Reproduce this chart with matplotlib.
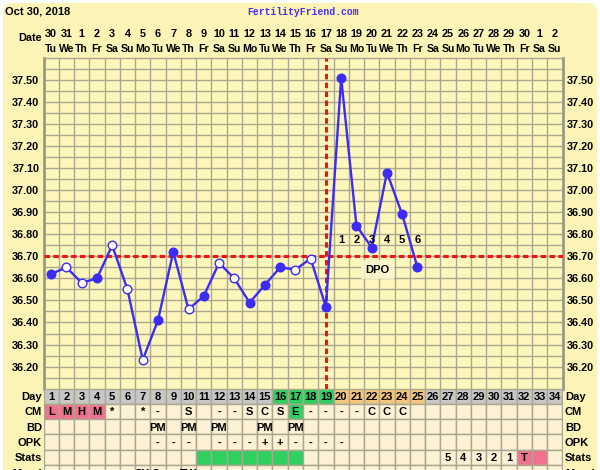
import numpy as np
import matplotlib
matplotlib.use("Agg")
import matplotlib.pyplot as plt
from matplotlib.patches import FancyBboxPatch

# ---- chart data ----
days = np.arange(1, 35)
dates = [30, 31] + list(range(1, 31)) + [1, 2]
weekdays = (["Tu", "We", "Th", "Fr", "Sa", "Su", "Mo"] * 5)[:34]

temp_days = np.arange(1, 26)
temps = [36.62, 36.65, 36.58, 36.60, 36.75, 36.55, 36.23, 36.41, 36.72, 36.46,
         36.52, 36.67, 36.60, 36.49, 36.57, 36.65, 36.64, 36.69, 36.47, 37.51,
         36.84, 36.74, 37.08, 36.89, 36.65]
open_days = [2, 3, 5, 6, 7, 10, 12, 13, 17, 18]
coverline = 36.70
ovulation_day = 19
dpo_days = [20, 21, 22, 23, 24, 25]
dpo_labels = ["1", "2", "3", "4", "5", "6"]

row_names = ["Day", "CM", "BD", "OPK", "Stats", "Mood"]
cm = {1: "L", 2: "M", 3: "H", 4: "M", 5: "*", 7: "*", 8: "-", 10: "S", 12: "-",
      13: "-", 14: "S", 15: "C", 16: "S", 17: "E", 18: "-", 19: "-", 20: "-",
      21: "-", 22: "C", 23: "C", 24: "C"}
bd = {8: "PM", 10: "PM", 12: "PM", 15: "PM", 17: "PM"}
opk = {8: "-", 9: "-", 10: "-", 12: "-", 13: "-", 14: "-", 15: "+", 16: "+",
       17: "-", 18: "-", 19: "-", 20: "-"}
stats = {27: "5", 28: "4", 29: "3", 30: "2", 31: "1", 32: "T"}
mood = {7: "SK", 8: "Cr", 10: "TW"}
fertile_days = [16, 17, 18, 19]
luteal_days = [20, 21, 22, 23, 24, 25]
menses_days = [1, 2, 3, 4]
peak_cm_days = [17]
stats_green = [11, 12, 13, 14, 15, 16, 17]
stats_pink = [32, 33]

# ---- colours ----
BG = "#fbf4b6"
PLOT_BG = "#fdf7bc"
GRID = "#aba78f"
BLUE = "#3d2cf5"
RED = "#ee1515"
CELL = "#fdf1d6"
GRAY = "#c7c7c7"
GREEN = "#30d060"
ORANGE = "#f4c57c"
PINK = "#f2718f"

plt.rcParams['font.family'] = ['Liberation Sans', 'DejaVu Sans']
plt.rcParams['font.weight'] = 'bold'

fig = plt.figure(figsize=(6, 4.7), dpi=100, facecolor="white")

# rounded yellow backdrop
bg = fig.add_axes([0, 0, 1, 1], zorder=-5)
bg.set_xlim(0, 600)
bg.set_ylim(470, 0)
bg.axis("off")
bg.add_patch(FancyBboxPatch((3, 3), 594, 490, boxstyle="round,pad=0,rounding_size=9",
                            fc=BG, ec="none"))
bg.text(5, 12, "Oct 30, 2018", fontsize=8, fontweight="bold", va="center")
bg.text(303, 12, "FertilityFriend.com", fontsize=7, fontweight="bold", va="center",
        ha="center", color="#4a2ff0", family="Liberation Mono")

# ---- temperature chart ----
ax = fig.add_axes([43.5 / 600, 1 - 388.6 / 470, 519 / 600, 330.6 / 470])
ax.set_facecolor(PLOT_BG)
ax.set_xlim(0.5, 34.5)
ax.set_ylim(36.10, 37.60)
ax.set_xticks([])
ax.set_xticks(np.arange(0.5, 35, 1), minor=True)
yt = np.round(np.arange(36.20, 37.51, 0.10), 2)
ax.set_yticks(yt)
ax.set_yticklabels([f"{v:.2f}" for v in yt])
ax.set_yticks(np.round(np.arange(36.15, 37.60, 0.10), 2), minor=True)
ax.tick_params(axis="both", which="both", length=0)
ax.tick_params(axis="y", labelsize=7.8, pad=3, labelright=True)
ax.grid(which="both", color=GRID, lw=1.0)
ax.set_axisbelow(True)
for s in ["left", "right"]:
    ax.spines[s].set_color("#9d9a82")
    ax.spines[s].set_linewidth(2)
for s in ["top", "bottom"]:
    ax.spines[s].set_color(GRID)
    ax.spines[s].set_linewidth(1)

ax.axhline(coverline, color=RED, lw=2.2, ls=(0, (1.8, 1.1)), zorder=3)
ax.axvline(ovulation_day, color=RED, lw=2.2, ls=(0, (1.8, 1.1)), zorder=3)

ax.plot(temp_days, temps, color=BLUE, lw=1.7, zorder=4)
is_open = np.isin(temp_days, open_days)
t = np.array(temps)
ax.plot(temp_days[~is_open], t[~is_open], "o", ms=6.2, color=BLUE, zorder=5)
ax.plot(temp_days[is_open], t[is_open], "o", ms=6.2, mfc="white", mec=BLUE,
        mew=1.0, zorder=5)

for d, lab in zip(dpo_days, dpo_labels):
    ax.text(d, 36.775, lab, ha="center", va="center", fontsize=8, zorder=6)
ax.text(22.4, 36.64, "DPO", ha="center", va="center", fontsize=8, zorder=6,
        bbox=dict(boxstyle="square,pad=0.4", fc="#fdf8d2", ec="none", alpha=0.85))

# header dates
for d, dt, wd in zip(days, dates, weekdays):
    ax.annotate(str(dt), xy=(d, 1), xycoords=ax.get_xaxis_transform(),
                xytext=(0, 17), textcoords="offset points", ha="center",
                va="center", fontsize=7.8)
    ax.annotate(wd, xy=(d, 1), xycoords=ax.get_xaxis_transform(),
                xytext=(0, 6.3), textcoords="offset points", ha="center",
                va="center", fontsize=7.6)
ax.annotate("Date", xy=(0.4, 1), xycoords=ax.get_xaxis_transform(),
            xytext=(0, 14.5), textcoords="offset points", ha="right",
            va="center", fontsize=7.8)

# ---- chart table ----
tb = fig.add_axes([43.5 / 600, 1 - 480.4 / 470, 519 / 600, 91.8 / 470])
tb.set_xlim(0.5, 34.5)
tb.set_ylim(6, 0)
tb.axis("off")

day_col = []
for d in days:
    if d in fertile_days:
        day_col.append(GREEN)
    elif d in luteal_days:
        day_col.append(ORANGE)
    else:
        day_col.append(GRAY)
cm_col = [PINK if d in menses_days else GREEN if d in peak_cm_days else CELL for d in days]
st_col = [GREEN if d in stats_green else PINK if d in stats_pink else CELL for d in days]
row_colors = [day_col, cm_col, [CELL] * 34, [CELL] * 34, st_col, [CELL] * 34]
row_text = [{d: str(d) for d in days}, cm, bd, opk, stats, mood]

for r, (cols, txt) in enumerate(zip(row_colors, row_text)):
    tb.bar(days, 1, bottom=r, width=1, color=cols, edgecolor=GRID, lw=1.0)
    for d, s in txt.items():
        tb.text(d, r + 0.55, s, ha="center", va="center", fontsize=8)
    tb.text(0.4, r + 0.55, row_names[r], ha="right", va="center", fontsize=8)
    tb.text(34.65, r + 0.55, row_names[r], ha="left", va="center", fontsize=8)

fig.savefig("out.png", dpi=100, facecolor="white")
